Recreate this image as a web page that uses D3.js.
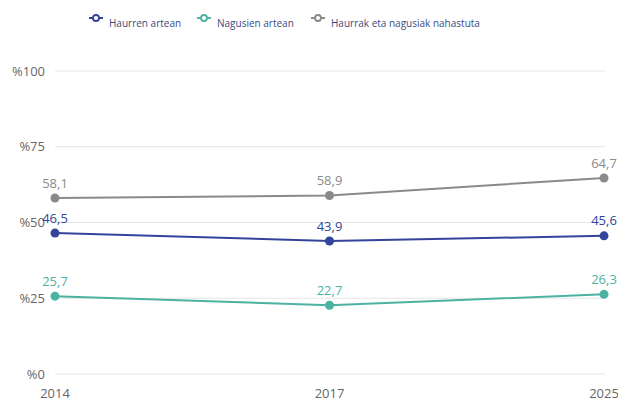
<!DOCTYPE html>
<html>
<head>
<meta charset="utf-8">
<script src="https://cdn.jsdelivr.net/npm/d3@7"></script>
<style>
  body { margin: 0; background: #fff; }
  text { font-family: "Open Sans", "Noto Sans", sans-serif; }
</style>
</head>
<body>
<div id="chart"></div>
<script>
const years = ['2014', '2017', '2025']
const seriesNames = ['Haurren artean', 'Nagusien artean', 'Haurrak eta nagusiak nahastuta']
const haurren = [46.5, 43.9, 45.6]
const nagusien = [25.7, 22.7, 26.3]
const nahastuta = [58.1, 58.9, 64.7]
const yTicks = [0, 25, 50, 75, 100]
const colors = ['#34449a', '#4cb3a3', '#8a8a8a']

const w = 618, h = 401

const svg = d3.select('#chart').append('svg')
  .attr('width', w).attr('height', h)

const x = d3.scalePoint().domain(years).range([55, 604])
const y = d3.scaleLinear().domain([0, 100]).range([374, 71])

// grid + y labels
svg.append('g').selectAll('line')
  .data(yTicks).enter().append('line')
  .attr('x1', 55).attr('x2', 605)
  .attr('y1', d => y(d)).attr('y2', d => y(d))
  .attr('stroke', '#e6e6e6').attr('stroke-width', 1)

svg.append('g').selectAll('text')
  .data(yTicks).enter().append('text')
  .attr('x', 45).attr('y', d => y(d))
  .attr('dy', '0.35em')
  .attr('text-anchor', 'end')
  .attr('font-size', 13)
  .attr('fill', '#666')
  .text(d => '%' + d)

// x labels
svg.append('g').selectAll('text')
  .data(years).enter().append('text')
  .attr('x', d => x(d)).attr('y', 393)
  .attr('dy', '0.35em')
  .attr('text-anchor', 'middle')
  .attr('font-size', 13)
  .attr('fill', '#666')
  .text(d => d)

const series = [haurren, nagusien, nahastuta]
const line = d3.line().x((d, i) => x(years[i])).y(d => y(d))

series.forEach((vals, s) => {
  const g = svg.append('g')
  g.append('path')
    .datum(vals)
    .attr('d', line)
    .attr('fill', 'none')
    .attr('stroke', colors[s])
    .attr('stroke-width', 2)
  g.selectAll('circle')
    .data(vals).enter().append('circle')
    .attr('cx', (d, i) => x(years[i])).attr('cy', d => y(d))
    .attr('r', 4.5)
    .attr('fill', colors[s])
  g.selectAll('text')
    .data(vals).enter().append('text')
    .attr('x', (d, i) => x(years[i])).attr('y', d => y(d) - 15)
    .attr('dy', '0.35em')
    .attr('text-anchor', 'middle')
    .attr('font-size', 13)
    .attr('fill', colors[s])
    .text(d => d.toFixed(1).replace('.', ','))
})

// legend
const legendX = [89, 197, 311]
const legend = svg.append('g')
seriesNames.forEach((name, s) => {
  const lg = legend.append('g').attr('transform', 'translate(' + legendX[s] + ',18)')
  lg.append('line').attr('x1', 0).attr('x2', 14).attr('y1', 0).attr('y2', 0)
    .attr('stroke', colors[s]).attr('stroke-width', 2)
  lg.append('circle').attr('cx', 7).attr('cy', 0).attr('r', 3)
    .attr('fill', '#fff').attr('stroke', colors[s]).attr('stroke-width', 1.8)
  lg.append('text').attr('x', 20).attr('y', 9)
    .attr('font-size', 10).attr('fill', '#3d4a7e')
    .text(name)
})
</script>
</body>
</html>
